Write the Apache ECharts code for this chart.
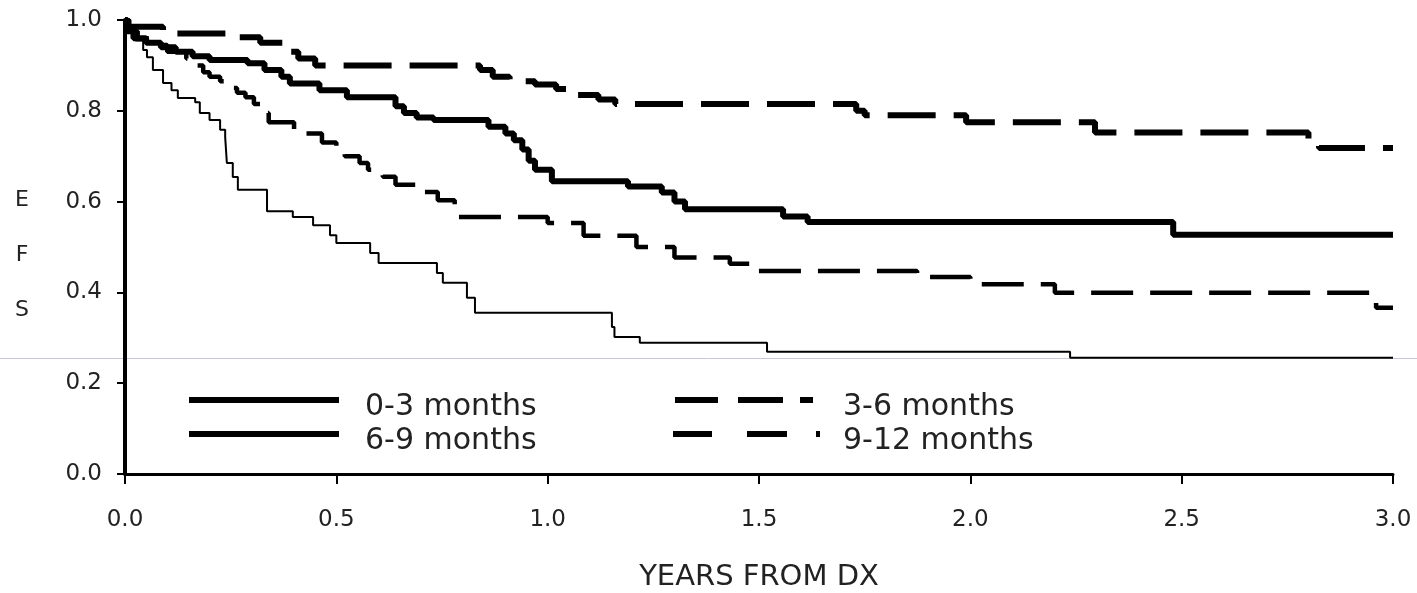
<!DOCTYPE html>
<html>
<head>
<meta charset="utf-8">
<script src="https://cdn.jsdelivr.net/npm/echarts@6/dist/echarts.min.js"></script>
<style>html,body{margin:0;padding:0;background:#fff}#c{width:1417px;height:593px}</style>
</head>
<body>
<div id="c"></div>
<script>
// ---- data (Kaplan-Meier step points: time in years, EFS) ----
const seriesNames = ['0-3 months', '3-6 months', '6-9 months', '9-12 months'];

const m0to3_t = [0, 0.012, 0.025, 0.043, 0.052, 0.066, 0.09, 0.11, 0.125, 0.166, 0.177, 0.2, 0.225, 0.237, 0.241, 0.255, 0.267, 0.336, 0.397, 0.445, 0.485, 0.50, 0.58, 0.6, 0.738, 0.752, 0.809, 0.828, 1.152, 1.158, 1.218, 1.519, 2.236, 3.0];
const m0to3_s = [1.0, 0.975, 0.955, 0.934, 0.918, 0.89, 0.861, 0.845, 0.828, 0.819, 0.795, 0.78, 0.758, 0.742, 0.685, 0.654, 0.626, 0.579, 0.566, 0.548, 0.526, 0.509, 0.487, 0.465, 0.443, 0.421, 0.388, 0.355, 0.324, 0.302, 0.289, 0.269, 0.256, 0.256];

const m3to6_t = [0, 0.005, 0.09, 0.26, 0.32, 0.38, 0.41, 0.45, 0.84, 0.87, 0.91, 0.97, 1.02, 1.07, 1.12, 1.16, 1.73, 1.75, 1.99, 2.295, 2.80, 2.825, 3.0];
const m3to6_s = [1.0, 0.985, 0.97, 0.962, 0.95, 0.93, 0.915, 0.90, 0.89, 0.875, 0.865, 0.858, 0.848, 0.835, 0.825, 0.815, 0.80, 0.79, 0.775, 0.752, 0.735, 0.718, 0.718];

const m6to9_t = [0, 0.005, 0.02, 0.05, 0.085, 0.12, 0.16, 0.2, 0.29, 0.33, 0.37, 0.39, 0.46, 0.525, 0.64, 0.66, 0.69, 0.73, 0.86, 0.9, 0.92, 0.94, 0.955, 0.97, 1.01, 1.19, 1.27, 1.3, 1.325, 1.557, 1.615, 2.48, 3.0];
const m6to9_s = [1.0, 0.975, 0.96, 0.95, 0.94, 0.93, 0.92, 0.912, 0.905, 0.89, 0.875, 0.86, 0.845, 0.83, 0.81, 0.795, 0.785, 0.78, 0.765, 0.75, 0.735, 0.715, 0.69, 0.67, 0.645, 0.633, 0.62, 0.60, 0.583, 0.567, 0.555, 0.527, 0.527];

const m9to12_t = [0, 0.01, 0.03, 0.06, 0.1, 0.145, 0.165, 0.185, 0.2, 0.225, 0.245, 0.265, 0.285, 0.305, 0.325, 0.34, 0.4, 0.415, 0.466, 0.5, 0.52, 0.555, 0.575, 0.61, 0.64, 0.69, 0.74, 0.78, 0.79, 1.0, 1.085, 1.21, 1.30, 1.431, 1.495, 1.874, 2.0, 2.2, 2.96, 3.0];
const m9to12_s = [1.0, 0.975, 0.96, 0.945, 0.93, 0.915, 0.9, 0.885, 0.875, 0.865, 0.85, 0.84, 0.83, 0.815, 0.795, 0.775, 0.76, 0.75, 0.73, 0.72, 0.70, 0.685, 0.67, 0.655, 0.637, 0.621, 0.603, 0.59, 0.566, 0.553, 0.525, 0.50, 0.477, 0.463, 0.447, 0.434, 0.418, 0.399, 0.366, 0.366];

const xTickLabels = ['0.0', '0.5', '1.0', '1.5', '2.0', '2.5', '3.0'];
const yTickLabels = ['0.0', '0.2', '0.4', '0.6', '0.8', '1.0'];
const xAxisTitle = 'YEARS FROM DX';
const yAxisLetters = ['E', 'F', 'S'];

// ---- build ----
const zip = (t, s) => t.map((v, i) => [v, s[i]]);
const FONT = 'DejaVu Sans';
const TXT = '#222';

const chart = echarts.init(document.getElementById('c'), null, {renderer: 'canvas'});

function legendCfg(name, left, top, icon, w, padLeft) {
  return {
    data: [{name: name, icon: icon}],
    left: left, top: top, padding: 0,
    itemWidth: w, itemHeight: 6,
    symbolKeepAspect: false,
    selectedMode: false,
    itemStyle: {borderWidth: 0, color: '#000'},
    formatter: '{a|{name}}',
    textStyle: {
      fontFamily: FONT, fontSize: 30, color: TXT,
      rich: {a: {fontFamily: FONT, fontSize: 30, color: TXT, lineHeight: 30, padding: [14, 0, 0, padLeft]}}
    }
  };
}

const option = {
  animation: false,
  backgroundColor: '#fff',
  grid: {left: 125, right: 24, top: 20, bottom: 119, containLabel: false, outerBoundsMode: 'none'},
  xAxis: {
    type: 'value', min: 0, max: 3, interval: 0.5,
    name: xAxisTitle, nameLocation: 'middle', nameGap: 89,
    nameTextStyle: {fontFamily: FONT, fontSize: 29, color: TXT},
    axisLine: {onZero: false, lineStyle: {color: '#000', width: 3}},
    axisTick: {show: true, length: 10, lineStyle: {color: '#000', width: 2}},
    axisLabel: {margin: 35, fontFamily: FONT, fontSize: 23, color: TXT,
      formatter: (v) => xTickLabels[Math.round(v / 0.5)]},
    splitLine: {show: false}
  },
  yAxis: {
    type: 'value', min: 0, max: 1, interval: 0.2,
    axisLine: {show: true, onZero: false, lineStyle: {color: '#000', width: 4}},
    axisTick: {show: true, length: 8, lineStyle: {color: '#000', width: 2}},
    axisLabel: {margin: 23, fontFamily: FONT, fontSize: 23, color: TXT,
      formatter: (v) => yTickLabels[Math.round(v / 0.2)]},
    splitLine: {show: false}
  },
  legend: [
    legendCfg(seriesNames[0], 189, 378, 'path://M0,0H150V6H0Z', 150, 21),
    legendCfg(seriesNames[2], 189, 412, 'path://M0,0H150V6H0Z', 150, 21),
    legendCfg(seriesNames[1], 675, 378, 'path://M0,0H43V6H0Z M63,0H108V6H63Z M125,0H138V6H125Z', 138, 25),
    legendCfg(seriesNames[3], 673, 412, 'path://M0,0H39V6H0Z M74,0H114V6H74Z M143,0H147V6H143Z', 147, 18)
  ],
  graphic: [
    {type: 'line', z: 0, shape: {x1: 0, y1: 358.5, x2: 1417, y2: 358.5}, style: {stroke: '#c8c8dc', lineWidth: 1}},
    {type: 'text', x: 22, y: 200, style: {text: yAxisLetters[0], fontFamily: FONT, fontSize: 22, fill: TXT, align: 'center', verticalAlign: 'middle'}},
    {type: 'text', x: 22, y: 255, style: {text: yAxisLetters[1], fontFamily: FONT, fontSize: 22, fill: TXT, align: 'center', verticalAlign: 'middle'}},
    {type: 'text', x: 22, y: 310, style: {text: yAxisLetters[2], fontFamily: FONT, fontSize: 22, fill: TXT, align: 'center', verticalAlign: 'middle'}}
  ],
  series: [
    {name: seriesNames[0], type: 'line', step: 'end', symbol: 'none', color: '#000',
     lineStyle: {color: '#000', width: 2}, data: zip(m0to3_t, m0to3_s), z: 3},
    {name: seriesNames[1], type: 'line', step: 'end', symbol: 'none', color: '#000',
     lineStyle: {color: '#000', width: 6, type: [48, 18]}, data: zip(m3to6_t, m3to6_s), z: 3},
    {name: seriesNames[2], type: 'line', step: 'end', symbol: 'none', color: '#000',
     lineStyle: {color: '#000', width: 6}, data: zip(m6to9_t, m6to9_s), z: 3},
    {name: seriesNames[3], type: 'line', step: 'end', symbol: 'none', color: '#000',
     lineStyle: {color: '#000', width: 4.5, type: [42, 17]}, data: zip(m9to12_t, m9to12_s), z: 3}
  ]
};
chart.setOption(option);
</script>
</body>
</html>
